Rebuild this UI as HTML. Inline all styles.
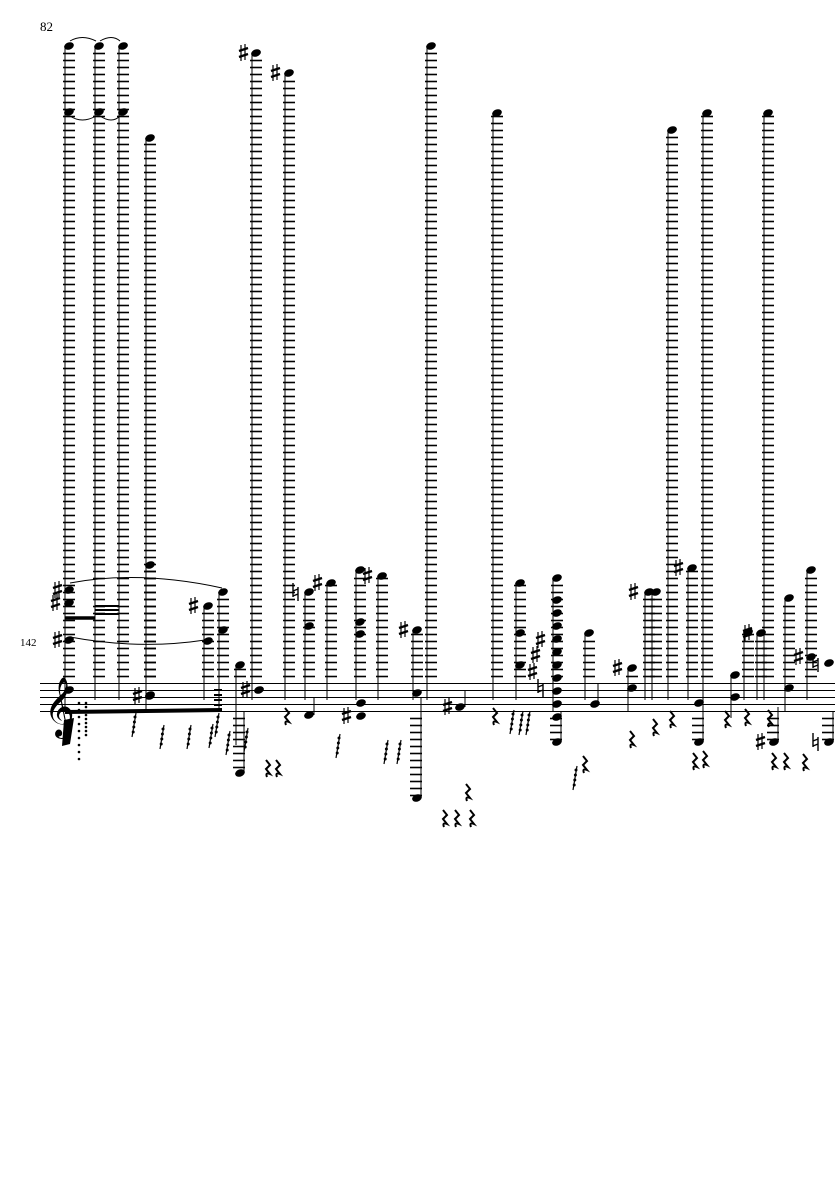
<!DOCTYPE html>
<html><head><meta charset="utf-8">
<style>
html,body{margin:0;padding:0;background:#fff;}
svg{display:block;}
text{font-family:"Liberation Serif",serif;}
</style></head>
<body>
<svg id="s" width="835" height="1181" viewBox="0 0 835 1181" xmlns="http://www.w3.org/2000/svg">
<rect width="835" height="1181" fill="#fff"/>
<text x="40" y="31" font-size="13">82</text>
<text x="20" y="646" font-size="11">142</text>
<g stroke="#000" stroke-width="1">
<line x1="40" y1="683.5" x2="835" y2="683.5"/>
<line x1="40" y1="690.5" x2="835" y2="690.5"/>
<line x1="40" y1="697.5" x2="835" y2="697.5"/>
<line x1="40" y1="704.5" x2="835" y2="704.5"/>
<line x1="40" y1="711.5" x2="835" y2="711.5"/>
</g>
<text x="44" y="724" font-size="52">𝄞</text>
<g id="g"></g>
</svg>
<script>
var g=document.getElementById('g'),h='';
function L(x1,y1,x2,y2,w){h+='<line x1="'+x1+'" y1="'+y1+'" x2="'+x2+'" y2="'+y2+'" stroke="#000" stroke-width="'+(w||1)+'"/>';}
function N(x,y){h+='<ellipse cx="'+(x+4)+'" cy="'+y+'" rx="5" ry="3.6" transform="rotate(-20 '+(x+4)+' '+y+')" fill="#000"/>';}
function S(x,y){var a=x-9;h+='<path d="M'+(a+2)+' '+(y-8)+' v16 M'+(a+6)+' '+(y-9)+' v16" stroke="#000" stroke-width="1.2"/><path d="M'+a+' '+(y-2)+' l9 -3 M'+a+' '+(y+4)+' l9 -3" stroke="#000" stroke-width="2.4"/>';}
function Nat(x,y){var a=x-7;h+='<path d="M'+a+' '+(y-9)+' v14 M'+(a+5)+' '+(y-5)+' v14 M'+a+' '+(y-1)+' l5 -2 M'+a+' '+(y+4)+' l5 -2" stroke="#000" stroke-width="1.4" fill="none"/>';}
function R(x,y){h+='<path d="M'+(x-2)+' '+(y-7)+' l4 5 l-4 4 l4 5 q-5 -2 -3 3" stroke="#000" stroke-width="2" fill="none"/>';}
function GR(x,y){h+='<line x1="'+(x+4)+'" y1="'+(y-12)+'" x2="'+x+'" y2="'+(y+12)+'" stroke="#000" stroke-width="1.2"/>';for(var i=0;i<4;i++)h+='<circle cx="'+(x+3-i*0.6)+'" cy="'+(y-8+i*5)+'" r="1.5" fill="#000"/>';}
function C(x,top,bot){for(var y=676.5;y>=top+2;y-=7)L(x-2,y,x+10,y,1.6);L(x,top,x,bot||711);N(x,top);}
function D(x,bottom,from){for(var y=718.5;y<=bottom-2;y+=7)L(x-3,y,x+9,y,1.6);L(x+8,from||690,x+8,bottom);N(x,bottom);}
C(65,46,712);C(95,46,700);C(119,46,700);C(146,138,712);
N(65,112);N(95,112);N(119,112);N(65,590);N(65,640);N(65,603);S(62,590);S(60,603);S(62,640);
N(65,690);
h+='<path d="M70 41 Q82 34 96 41 M100 41 Q112 34 120 41" stroke="#000" fill="none"/>';
h+='<path d="M70 116 Q82 124 96 116 M100 116 Q112 124 120 116" stroke="#000" fill="none"/>';
h+='<path d="M70 583 Q140 570 222 588" stroke="#000" fill="none"/>';
h+='<path d="M70 637 Q140 650 205 640" stroke="#000" fill="none"/>';
C(146,565,712);
L(65,618,95,618,3.5);L(95,606,119,606,2);L(95,610,119,610,2);L(95,614,119,614,2);
L(65,712,222,710,4);
N(146,696);S(142,696);
C(204,606,700);N(204,641);S(198,606);C(219,592,712);N(219,630);
for(var i=0;i<4;i++)L(214,690+i*5,222,690+i*5,2);
C(236,665,745);D(236,773,712);
C(252,53,700);S(248,53);C(285,73,700);S(280,73);
N(255,690);S(250,690);
C(305,592,700);Nat(300,592);N(305,626);C(327,583,700);S(322,583);
N(305,715);L(314,697,314,715);
C(356,570,700);N(356,622);N(356,634);C(378,576,700);S(372,576);
N(357,716);N(357,703);S(351,716);
C(413,630,700);S(408,630);D(413,798,697);N(413,693);
C(427,46,700);C(493,113,700);
N(456,707);S(452,707);L(465,690,465,707);
C(516,583,700);N(516,633);N(516,665);
C(553,578,712);for(var k=0;k<10;k++)N(553,600+k*13);S(545,640);S(537,672);S(540,655);Nat(545,688);
D(553,742,712);
C(585,633,700);N(591,704);L(598,683,598,704);
C(628,668,712);S(622,668);N(628,688);
C(645,592,700);C(652,592,700);S(638,592);C(668,130,700);
C(688,568,700);S(683,568);C(703,113,700);
N(695,703);D(695,742,697);
C(731,675,718);N(731,697);C(744,632,700);C(757,633,700);S(752,633);
C(764,113,700);
C(785,598,712);N(785,688);D(770,742,707);S(765,742);
C(807,570,700);N(807,657);S(803,657);N(825,663);Nat(820,663);
D(825,742,712);Nat(820,742);
[[287,715],[268,767],[278,767],[445,817],[457,817],[472,817],[468,791],[495,715],[585,763],[632,738],[655,726],[672,718],[695,760],[705,758],[774,760],[786,760],[770,717],[727,718],[747,716],[805,761]].forEach(function(p){R(p[0],p[1]);});
[[132,725],[209,736],[226,743],[244,740],[160,737],[187,737],[215,725],[336,746],[384,752],[397,752],[510,722],[519,723],[526,723],[573,778]].forEach(function(p){GR(p[0],p[1]);});
h+='<path d="M64 720 l10 -2 l-4 26 l-8 2 Z" fill="#000"/>';
for(var i=0;i<9;i++){h+='<circle cx="79" cy="'+(703+i*7)+'" r="1.3" fill="#000"/><circle cx="86" cy="'+(703+i*4)+'" r="1.3" fill="#000"/>';}
N(146,695);
g.innerHTML=h;
</script>
</body></html>
